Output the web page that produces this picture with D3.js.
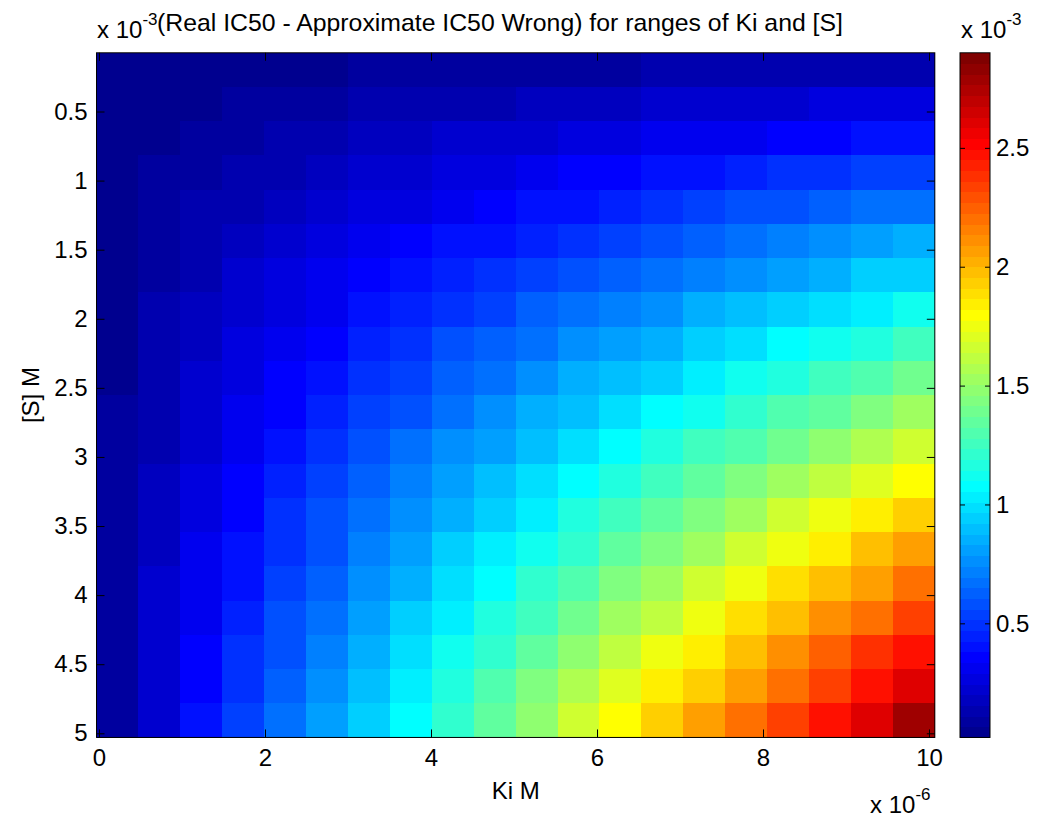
<!DOCTYPE html>
<html>
<head>
<style>
	body { margin:0; background:#ffffff; }
	svg text { font-family: "Liberation Sans", Arial, Helvetica, sans-serif; fill:#000; }
	.axis path.domain { display:none; }
	.axis line { stroke:#000; stroke-width:1; }
	.axis text { font-size:24px; }
	.frame { fill:none; stroke:#000; stroke-width:1; }
</style>
<script src="https://d3js.org/d3.v7.min.js"></script>
</head>
<body>
<div class="container"></div>
<script>
// Ki column centres (x 1e-6 M)
var kiValues = [0.25, 0.75, 1.25, 1.75, 2.25, 2.75, 3.25, 3.75, 4.25, 4.75,
	5.25, 5.75, 6.25, 6.75, 7.25, 7.75, 8.25, 8.75, 9.25, 9.75];

// [S] row centres (x 1e-3 M), top to bottom
var sValues = [0.2, 0.45, 0.69, 0.94, 1.19, 1.44, 1.68, 1.93, 2.18, 2.43,
	2.67, 2.92, 3.17, 3.42, 3.66, 3.91, 4.16, 4.41, 4.65, 4.9];

// Real IC50 - Approximate IC50 (x 1e-3), one row per [S], one column per Ki
var ic50Diff = [
	[0.03,0.04,0.04,0.05,0.06,0.06,0.07,0.07,0.08,0.08,0.09,0.10,0.10,0.11,0.11,0.12,0.12,0.13,0.14,0.14],
	[0.04,0.05,0.06,0.07,0.09,0.10,0.11,0.13,0.14,0.15,0.16,0.18,0.19,0.20,0.22,0.23,0.24,0.25,0.27,0.28],
	[0.04,0.06,0.08,0.10,0.12,0.14,0.16,0.18,0.20,0.22,0.24,0.26,0.28,0.30,0.32,0.33,0.35,0.37,0.39,0.41],
	[0.04,0.07,0.10,0.12,0.15,0.18,0.20,0.23,0.26,0.28,0.31,0.34,0.36,0.39,0.42,0.45,0.47,0.50,0.53,0.55],
	[0.05,0.08,0.11,0.15,0.18,0.22,0.25,0.28,0.32,0.35,0.39,0.42,0.45,0.49,0.52,0.56,0.59,0.62,0.66,0.69],
	[0.05,0.09,0.13,0.17,0.21,0.26,0.30,0.34,0.38,0.42,0.46,0.50,0.54,0.58,0.63,0.67,0.71,0.75,0.79,0.83],
	[0.05,0.10,0.15,0.20,0.25,0.29,0.34,0.39,0.44,0.48,0.53,0.58,0.63,0.68,0.72,0.77,0.82,0.87,0.92,0.96],
	[0.06,0.11,0.17,0.22,0.28,0.33,0.39,0.44,0.50,0.55,0.61,0.66,0.72,0.77,0.83,0.88,0.94,0.99,1.05,1.10],
	[0.06,0.12,0.19,0.25,0.31,0.37,0.43,0.50,0.56,0.62,0.68,0.74,0.81,0.87,0.93,0.99,1.06,1.12,1.18,1.24],
	[0.06,0.13,0.20,0.27,0.34,0.41,0.48,0.55,0.62,0.69,0.76,0.83,0.90,0.96,1.03,1.10,1.17,1.24,1.31,1.38],
	[0.07,0.14,0.22,0.30,0.37,0.45,0.52,0.60,0.68,0.75,0.83,0.91,0.98,1.06,1.13,1.21,1.29,1.36,1.44,1.51],
	[0.07,0.15,0.24,0.32,0.40,0.49,0.57,0.65,0.74,0.82,0.90,0.99,1.07,1.15,1.24,1.32,1.40,1.49,1.57,1.65],
	[0.08,0.17,0.26,0.35,0.44,0.53,0.62,0.71,0.80,0.89,0.98,1.07,1.16,1.25,1.34,1.43,1.52,1.61,1.70,1.79],
	[0.08,0.18,0.27,0.37,0.47,0.57,0.66,0.76,0.86,0.96,1.05,1.15,1.25,1.35,1.44,1.54,1.64,1.74,1.83,1.93],
	[0.08,0.19,0.29,0.40,0.50,0.60,0.71,0.81,0.92,1.02,1.13,1.23,1.33,1.44,1.54,1.65,1.75,1.86,1.96,2.06],
	[0.09,0.20,0.31,0.42,0.53,0.64,0.75,0.87,0.98,1.09,1.20,1.31,1.42,1.53,1.65,1.76,1.87,1.98,2.09,2.20],
	[0.09,0.21,0.33,0.44,0.56,0.68,0.80,0.92,1.04,1.16,1.27,1.39,1.51,1.63,1.75,1.87,1.99,2.10,2.22,2.34],
	[0.09,0.22,0.34,0.47,0.60,0.72,0.85,0.97,1.10,1.22,1.35,1.48,1.60,1.73,1.85,1.98,2.10,2.23,2.36,2.48],
	[0.10,0.23,0.36,0.49,0.63,0.76,0.89,1.02,1.16,1.29,1.42,1.55,1.69,1.82,1.95,2.08,2.22,2.35,2.48,2.61],
	[0.10,0.24,0.38,0.52,0.66,0.80,0.94,1.08,1.22,1.36,1.50,1.64,1.78,1.92,2.05,2.19,2.33,2.47,2.61,2.78]
];

var xTicks = [0, 2, 4, 6, 8, 10];
var yTicks = [0.5, 1, 1.5, 2, 2.5, 3, 3.5, 4, 4.5, 5];
var cTicks = [0.5, 1, 1.5, 2, 2.5];
var cLimits = [0.02, 2.90];

// matlab jet, 64 steps
function jetColor(t){
	var c = function(v){ return Math.round(255 * Math.max(0, Math.min(1, v))); };
	return d3.rgb(c(1.5 - Math.abs(4*t - 3)), c(1.5 - Math.abs(4*t - 2)), c(1.5 - Math.abs(4*t - 1))).toString();
}
var jet = d3.range(64).map(function(i){ return jetColor(i === 63 ? 1 : (i + 1) / 64); });

function draw(){
	var width = 1060, height = 822;

	var svg = d3.select('.container').append('svg')
		.attr('width', width).attr('height', height);

	// scales
	var x = d3.scaleLinear().domain([0, 10]).range([99, 929]);
	var y = d3.scaleLinear().domain([0.5, 5]).range([111.5, 733.3]);
	var xExtent = [-0.03, 10.07], yExtent = [0.075, 5.03];

	var xBand = d3.scaleBand().domain(kiValues).range([x(xExtent[0]), x(xExtent[1])]);
	var yBand = d3.scaleBand().domain(sValues).range([y(yExtent[0]), y(yExtent[1])]);

	var color = d3.scaleQuantize().domain(cLimits).range(jet);

	var cells = [];
	ic50Diff.forEach(function(row, i){
		row.forEach(function(v, j){ cells.push({s: sValues[i], ki: kiValues[j], v: v}); });
	});

	svg.append('g').selectAll('rect')
		.data(cells).enter().append('rect')
		.attr('x', function(d){ return xBand(d.ki); })
		.attr('y', function(d){ return yBand(d.s); })
		.attr('width', xBand.bandwidth() + 0.6)
		.attr('height', yBand.bandwidth() + 0.6)
		.attr('fill', function(d){ return color(d.v); })
		.attr('shape-rendering', 'crispEdges');

	var left = x(xExtent[0]), right = x(xExtent[1]), top = y(yExtent[0]), bottom = y(yExtent[1]);

	// axes, ticks pointing in
	svg.append('g').attr('class', 'axis')
		.attr('transform', 'translate(0,' + bottom + ')')
		.call(d3.axisBottom(x).tickValues(xTicks).tickSize(-8).tickPadding(12).tickFormat(d3.format('')));
	svg.append('g').attr('class', 'axis')
		.attr('transform', 'translate(0,' + top + ')')
		.call(d3.axisTop(x).tickValues(xTicks).tickSize(-8).tickFormat(''));
	svg.append('g').attr('class', 'axis')
		.attr('transform', 'translate(' + left + ',0)')
		.call(d3.axisLeft(y).tickValues(yTicks).tickSize(-8).tickPadding(9).tickFormat(d3.format('')));
	svg.append('g').attr('class', 'axis')
		.attr('transform', 'translate(' + right + ',0)')
		.call(d3.axisRight(y).tickValues(yTicks).tickSize(-8).tickFormat(''));

	svg.append('rect').attr('class', 'frame')
		.attr('x', left).attr('y', top)
		.attr('width', right - left).attr('height', bottom - top);

	// colorbar
	var cbLeft = 960, cbRight = 990;
	var cy = d3.scaleLinear().domain(cLimits).range([bottom, top]);
	var step = (cLimits[1] - cLimits[0]) / jet.length;
	svg.append('g').selectAll('rect')
		.data(jet).enter().append('rect')
		.attr('x', cbLeft)
		.attr('y', function(d, i){ return cy(cLimits[0] + (i + 1) * step); })
		.attr('width', cbRight - cbLeft)
		.attr('height', function(d, i){ return cy(cLimits[0] + i * step) - cy(cLimits[0] + (i + 1) * step) + 0.6; })
		.attr('fill', function(d){ return d; })
		.attr('shape-rendering', 'crispEdges');

	svg.append('g').attr('class', 'axis')
		.attr('transform', 'translate(' + cbLeft + ',0)')
		.call(d3.axisLeft(cy).tickValues(cTicks).tickSize(-5).tickFormat(''));
	svg.append('g').attr('class', 'axis')
		.attr('transform', 'translate(' + cbRight + ',0)')
		.call(d3.axisRight(cy).tickValues(cTicks).tickSize(-5).tickPadding(6).tickFormat(d3.format('')));

	svg.append('rect').attr('class', 'frame')
		.attr('x', cbLeft).attr('y', top)
		.attr('width', cbRight - cbLeft).attr('height', bottom - top);

	// texts
	svg.append('text')
		.attr('x', 500).attr('y', 31)
		.attr('text-anchor', 'middle')
		.style('font-size', '24.8px')
		.text('(Real IC50 - Approximate IC50 Wrong) for ranges of Ki and [S]');

	svg.append('text')
		.attr('x', (left + right) / 2).attr('y', 799)
		.attr('text-anchor', 'middle')
		.style('font-size', '24px')
		.text('Ki M');

	svg.append('text')
		.attr('transform', 'translate(39,' + ((top + bottom) / 2) + ') rotate(-90)')
		.attr('text-anchor', 'middle')
		.style('font-size', '24px')
		.text('[S] M');

	// exponent labels
	function expLabel(px, py, power){
		var t = svg.append('text').attr('x', px).attr('y', py).style('font-size', '24px');
		t.append('tspan').text('x 10');
		t.append('tspan').attr('dy', -13).style('font-size', '17px').text(power);
	}
	expLabel(97, 38, '-3');
	expLabel(961, 38, '-3');
	expLabel(870, 813, '-6');
}

draw();
</script>
</body>
</html>
